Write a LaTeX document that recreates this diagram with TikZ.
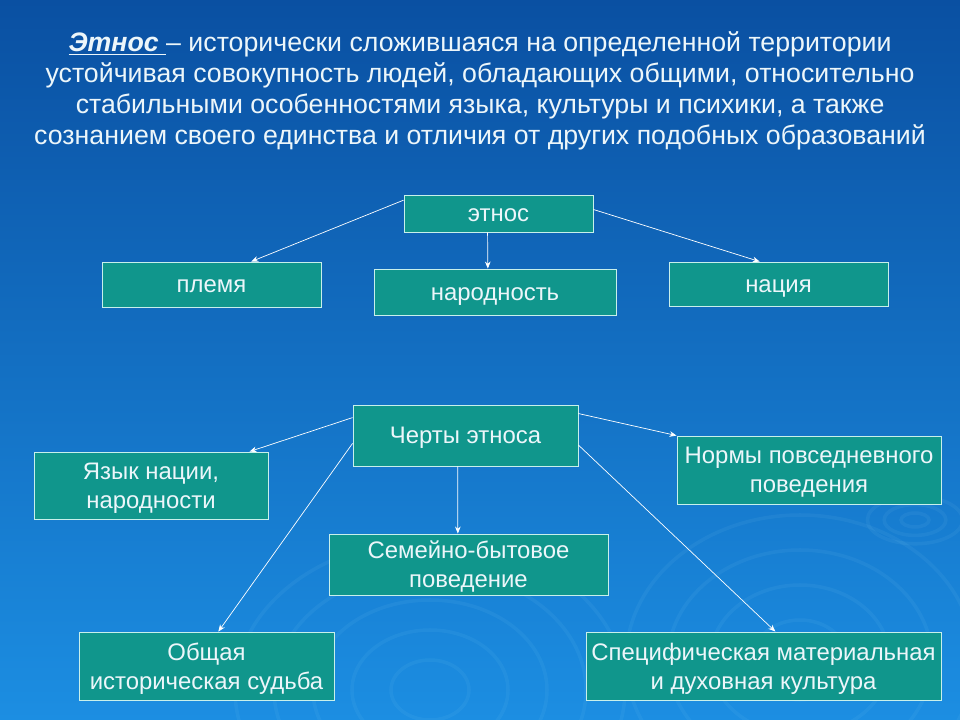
\documentclass[tikz,border=0pt]{standalone}
\usepackage{fontspec}
\setmainfont{Liberation Sans}
\usetikzlibrary{arrows.meta}

\definecolor{bgtop}{RGB}{10,80,162}
\definecolor{bgbottom}{RGB}{28,142,226}
\definecolor{boxfill}{RGB}{16,150,140}
\definecolor{boxline}{RGB}{200,240,235}
\definecolor{textlight}{RGB}{236,246,250}

\begin{document}
\begin{tikzpicture}[
    x=0.025cm, y=-0.025cm,
    main box/.style={rectangle, draw=boxline, line width=0.6pt, fill=boxfill,
        text=textlight, align=center, inner sep=2pt, text depth=0pt,
        font=\fontsize{17}{20.5}\selectfont},
    one line/.style={text height=14pt, text depth=2pt},
    link/.style={draw=white, line width=0.5pt, -{Stealth[length=5pt,width=4pt]}},
    ring/.style={draw=cyan!40, line width=2.5pt, opacity=0.07}
]
    % background
    \shade[top color=bgtop, bottom color=bgbottom] (0,0) rectangle (960,720);
    \useasboundingbox (0,0) rectangle (960,720);
    \foreach \r in {30,60,90,120,150}
        \draw[ring] (430,690) circle[x radius=\r*1.3, y radius=\r];
    \foreach \r in {40,75,110,145}
        \draw[ring] (800,660) circle[x radius=\r*1.2, y radius=\r];
    \foreach \r in {10,22,34}
        \draw[ring] (915,520) circle[x radius=\r*1.4, y radius=\r*0.7];

    % title
    \node[text=textlight, align=center, font=\fontsize{19}{22}\selectfont] (title) at (480,91)
        {\underline{\textbf{\textit{Этнос }}}– исторически сложившаяся на определенной территории\\
         устойчивая совокупность людей, обладающих общими, относительно\\
         стабильными особенностями языка, культуры и психики, а также\\
         сознанием своего единства и отличия от других подобных образований};

    % upper group
    \node[main box, one line, minimum width=4.725cm, minimum height=0.925cm] (ethnos) at (498.5,213.5) {этнос};
    \node[main box, one line, minimum width=5.475cm, minimum height=1.125cm] (tribe)  at (211.5,284.5) {племя};
    \node[main box, one line, minimum width=6.05cm,  minimum height=1.15cm]  (people) at (495,292)     {народность};
    \node[main box, one line, minimum width=5.475cm, minimum height=1.1cm]   (nation) at (778.5,284)   {нация};

    \path (ethnos.172) edge[link] (tribe.30)
        (ethnos.240) edge[link] (people.107)
        ([yshift=0.1cm]ethnos.east) edge[link] (nation.130);

    % lower group
    \node[main box, one line, minimum width=5.625cm, minimum height=1.525cm] (traits) at (465.5,435.5) {Черты этноса};
    \node[main box, minimum width=5.85cm,  minimum height=1.675cm] (lang)    at (151,485.5)   {Язык нации,\\ народности};
    \node[main box, minimum width=6.6cm,   minimum height=1.7cm]   (norms)   at (809,470)     {Нормы повседневного\\ поведения};
    \node[main box, minimum width=6.975cm, minimum height=1.525cm] (family)  at (468.5,564.5) {Семейно-бытовое\\ поведение};
    \node[main box, minimum width=6.375cm, minimum height=1.7cm]   (fate)    at (206.5,666)   {Общая\\ историческая судьба};
    \node[main box, minimum width=8.875cm, minimum height=1.7cm]   (culture) at (763.5,666)   {Специфическая материальная\\ и духовная культура};

    \path (traits.171) edge[link] (lang.19)
        (traits.11)  edge[link] (norms.north west)
        (traits.256) edge[link] (family.109)
        (traits.184) edge[link] (fate.71)
        ([yshift=-0.24cm]traits.east) edge[link] (culture.71);
\end{tikzpicture}
\end{document}
